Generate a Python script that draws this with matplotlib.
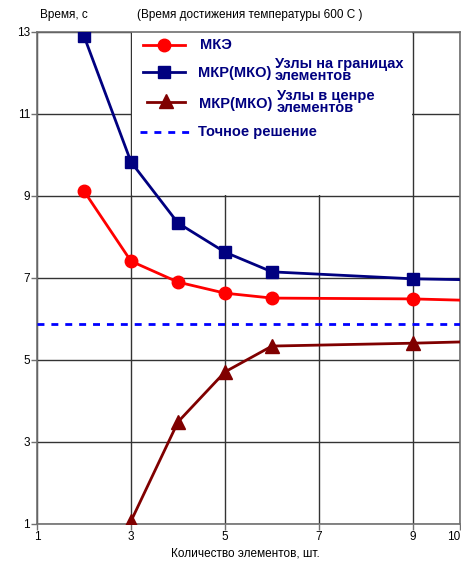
import matplotlib.pyplot as plt
from matplotlib.lines import Line2D

plt.rcParams['font.family'] = ['Liberation Sans', 'DejaVu Sans']

# data
n_fem = [2, 3, 4, 5, 6, 9, 10]
t_fem = [9.12, 7.41, 6.90, 6.63, 6.51, 6.49, 6.46]

n_fdm_edge = [2, 3, 4, 5, 6, 9, 10]
t_fdm_edge = [12.9, 9.83, 8.34, 7.63, 7.15, 6.98, 6.96]

n_fdm_center = [3, 4, 5, 6, 9, 10]
t_fdm_center = [1.07, 3.49, 4.71, 5.34, 5.41, 5.44]

t_exact = 5.88

x_ticks = [1, 3, 5, 7, 9, 10]
y_ticks = [1, 3, 5, 7, 9, 11, 13]

RED = '#ff0000'
NAVY = '#000080'
MAROON = '#800000'
BLUE = '#0000ff'
GRID = '#333333'
SPINE = '#707070'

fig = plt.figure(figsize=(4.61, 5.68), dpi=100)
ax = fig.add_axes([37 / 461, 44 / 568, 423 / 461, 492 / 568])

ax.set_xlim(1, 10)
ax.set_ylim(1, 13)
ax.set_xticks(x_ticks)
ax.set_yticks(y_ticks)
ax.tick_params(labelsize=8.5, length=4, width=1, color=SPINE, pad=1)
ax.get_xticklabels()[-1].set_horizontalalignment('right')
ax.grid(True, color=GRID, lw=1, zorder=1)
for s in ax.spines.values():
    s.set_color(SPINE)
    s.set_linewidth(1.2)

# white legend area between the 3 and 9 grid lines, above y = 9
ax.add_patch(plt.Rectangle((3.015, 9.02), 5.97, 3.97, facecolor='white',
                           edgecolor='none', zorder=2.5))

ax.axhline(t_exact, color=BLUE, lw=2, ls=(0, (2.5, 2.5)), zorder=3)
ax.plot(n_fem, t_fem, color=RED, lw=2, marker='o', ms=9,
        markevery=slice(0, -1), zorder=4)
ax.plot(n_fdm_edge, t_fdm_edge, color=NAVY, lw=2, marker='s', ms=8.5,
        markevery=slice(0, -1), zorder=4)
ax.plot(n_fdm_center, t_fdm_center, color=MAROON, lw=2, marker='^', ms=10,
        markevery=slice(0, -1), zorder=4)


def px(x, y):
    # pixel position in the figure -> figure fraction
    return x / 461, 1 - y / 568


lg = dict(transform=fig.transFigure, zorder=10)
fig.add_artist(Line2D([143 / 461, 185 / 461], [px(0, 45)[1]] * 2, color=RED,
                      lw=2, **lg))
fig.add_artist(Line2D([164 / 461], [px(0, 45)[1]], color=RED, marker='o',
                      ms=9, **lg))
fig.add_artist(Line2D([143 / 461, 185 / 461], [px(0, 72)[1]] * 2, color=NAVY,
                      lw=2, **lg))
fig.add_artist(Line2D([164 / 461], [px(0, 72)[1]], color=NAVY, marker='s',
                      ms=8.5, **lg))
fig.add_artist(Line2D([147 / 461, 185 / 461], [px(0, 102)[1]] * 2, color=MAROON,
                      lw=2, **lg))
fig.add_artist(Line2D([166 / 461], [px(0, 101)[1]], color=MAROON, marker='^',
                      ms=10, **lg))
fig.add_artist(Line2D([140 / 461, 190 / 461], [px(0, 132)[1]] * 2, color=BLUE,
                      lw=2, ls=(0, (2.5, 2.5)), **lg))

txt = dict(color=NAVY, fontweight='bold', fontsize=10.5, va='center', ha='left')
fig.text(*px(200, 45), 'МКЭ', **txt)
fig.text(*px(198, 73), 'МКР(МКО)', **txt)
fig.text(*px(275, 70), 'Узлы на границах\nэлементов', linespacing=0.8, **txt)
fig.text(*px(199, 104), 'МКР(МКО)', **txt)
fig.text(*px(277, 102), 'Узлы в ценре\nэлементов', linespacing=0.8, **txt)
fig.text(*px(198, 132), 'Точное решение', **txt)

fig.text(*px(40, 15), 'Время, с', fontsize=8.5, va='center', ha='left')
fig.text(*px(137, 15), '(Время достижения температуры 600 С )', fontsize=8.5,
         va='center', ha='left')
fig.text(*px(245, 553), 'Количество элементов, шт.', fontsize=8.5,
         va='center', ha='center')

fig.savefig('out.png', dpi=100, facecolor='white')
